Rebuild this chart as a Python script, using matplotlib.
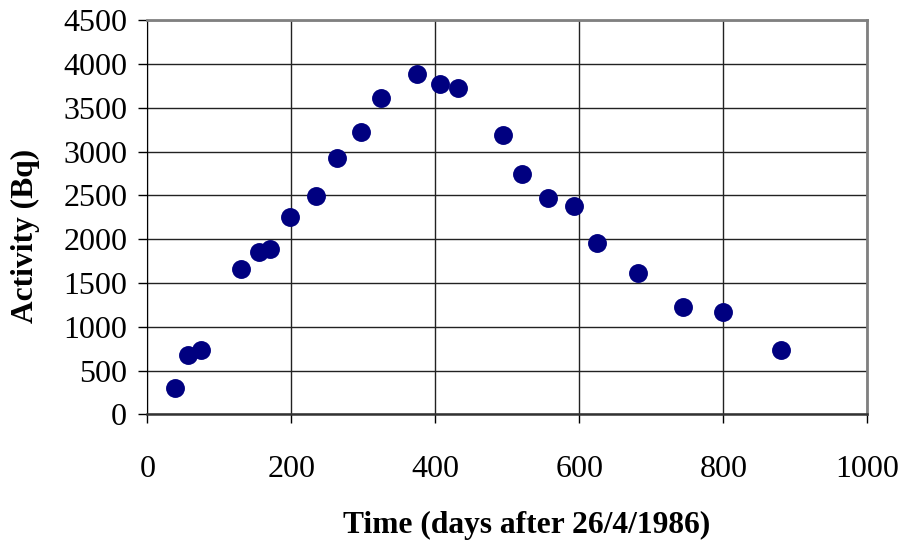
import matplotlib
matplotlib.use("Agg")
import matplotlib.pyplot as plt

# days after 26/4/1986 and measured activity (Bq)
days = [38, 57, 75, 130, 155, 170, 198, 234, 263, 297, 325, 374, 407, 431,
        494, 520, 556, 592, 625, 682, 744, 800, 880]
activity = [300, 680, 740, 1665, 1850, 1885, 2250, 2495, 2925, 3225, 3610,
            3885, 3775, 3725, 3195, 2745, 2470, 2380, 1955, 1615, 1220, 1170, 740]

xticks = [0, 200, 400, 600, 800, 1000]
yticks = list(range(0, 4501, 500))

plt.rcParams['font.family'] = ['Liberation Serif', 'DejaVu Serif']

fig = plt.figure(figsize=(9.01, 5.42), dpi=100)
ax = fig.add_axes([0.1635, 0.2356, 0.7991, 0.7269])

ax.scatter(days, activity, s=185, color='#000080', zorder=3, linewidths=0)

ax.set_xlim(0, 1000)
ax.set_ylim(0, 4500)
ax.set_xticks(xticks)
ax.set_yticks(yticks)
ax.grid(True, color='#222222', linewidth=1.0)
ax.set_axisbelow(True)

for side in ['top', 'right']:
    ax.spines[side].set_color('#808080')
    ax.spines[side].set_linewidth(2)
ax.spines['left'].set_color('black')
ax.spines['bottom'].set_color('#333333')
ax.spines['bottom'].set_linewidth(1.8)

ax.tick_params(axis='both', direction='out', length=6.5, width=1, labelsize=23)
ax.tick_params(axis='x', pad=23)
ax.tick_params(axis='y', pad=8)

fig.text(0.584, 0.031, 'Time (days after 26/4/1986)', ha='center', va='center',
         fontsize=22.7, fontweight='bold')
fig.text(0.028, 0.565, 'Activity (Bq)', ha='center', va='center', rotation=90,
         fontsize=22.7, fontweight='bold')

fig.savefig('out.png', dpi=100)
